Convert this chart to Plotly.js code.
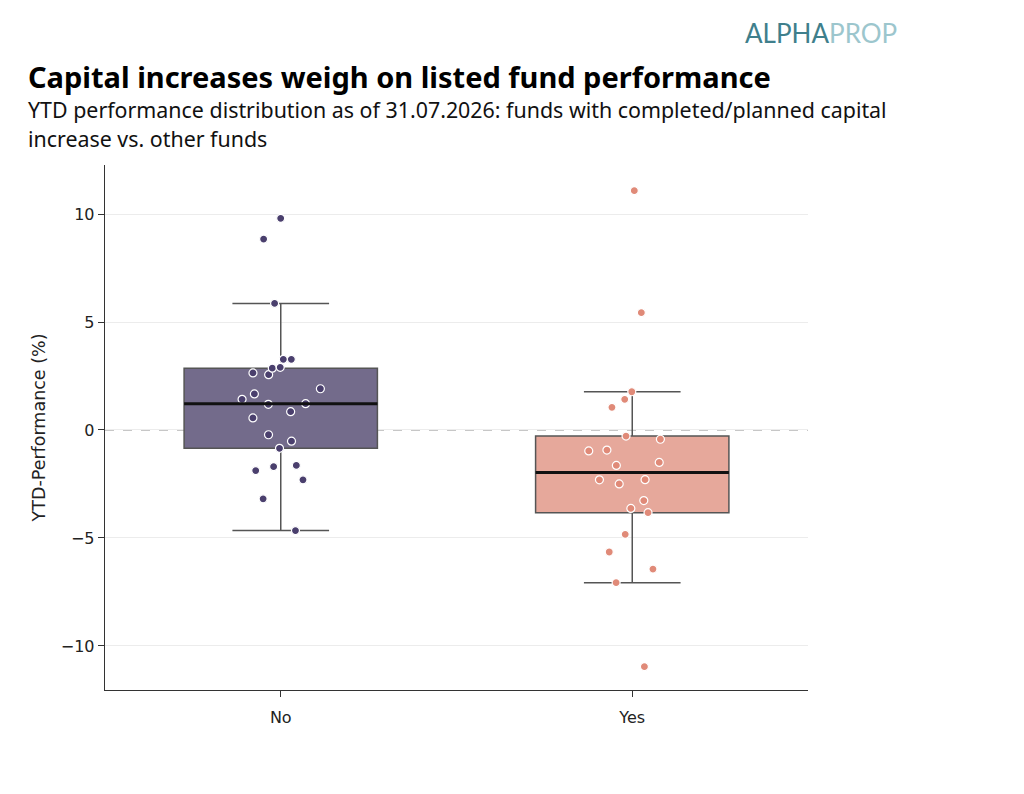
<!DOCTYPE html>
<html>
<head>
<meta charset="utf-8">
<script src="https://cdn.plot.ly/plotly-3.0.1.min.js"></script>
<style>
  html, body { margin: 0; padding: 0; background: #fff; }
  #chart { width: 1024px; height: 794px; }
</style>
</head>
<body>
<div id="chart"></div>
<script>
// YTD performance (%) per fund
const groups = ['No', 'Yes'];
const perfNo = [9.80, 8.84, 5.86, 3.27, 3.27, 2.86, 2.90, 2.56, 2.64, 1.91, 1.67, 1.42, 1.22,
  1.19, 0.85, 0.56, -0.22, -0.52, -0.85, -1.64, -1.70, -1.88, -2.31, -3.19, -4.66];
const perfYes = [11.08, 5.43, 1.77, 1.42, 1.05, -0.43, -0.28, -0.93, -0.97, -1.64, -1.50,
  -2.30, -2.50, -2.31, -3.27, -3.63, -3.83, -4.83, -5.65, -6.44, -7.07, -10.96];
const yTicks = [-10, -5, 0, 5, 10];

const boxFill = ['#736b8b', '#e6a89b'];
const dotColor = ['#4a3f6d', '#e08a78'];
const boxWidth = 0.55;
const axisFont = "'DejaVu Sans', sans-serif";
const headFont = "'Noto Sans', 'Open Sans', sans-serif";

function median(arr) {
  const s = [...arr].sort((a, b) => a - b);
  const m = Math.floor(s.length / 2);
  return s.length % 2 ? s[m] : (s[m - 1] + s[m]) / 2;
}

const series = [perfNo, perfYes];

const traces = series.map((vals, i) => ({
  type: 'box',
  x: vals.map(() => groups[i]),
  y: vals,
  name: groups[i],
  width: boxWidth,
  quartilemethod: 'inclusive',
  boxpoints: 'all',
  jitter: 0.5,
  pointpos: 0,
  whiskerwidth: 0.5,
  fillcolor: boxFill[i],
  line: { color: '#555555', width: 1.5 },
  marker: {
    color: dotColor[i],
    size: 8,
    line: { color: '#ffffff', width: 1.2 }
  },
  hoverinfo: 'y'
}));

// thick black median line like seaborn, computed from the data
const medianShapes = series.map((vals, i) => ({
  type: 'line',
  xref: 'x',
  yref: 'y',
  x0: i - boxWidth / 2,
  x1: i + boxWidth / 2,
  y0: median(vals),
  y1: median(vals),
  line: { color: '#111111', width: 3 },
  layer: 'above'
}));

const layout = {
  width: 1024,
  height: 794,
  margin: { t: 165, l: 105, r: 216, b: 104 },
  paper_bgcolor: '#ffffff',
  plot_bgcolor: '#ffffff',
  font: { family: axisFont, size: 16, color: '#222' },
  showlegend: false,
  boxmode: 'overlay',
  xaxis: {
    type: 'category',
    categoryorder: 'array',
    categoryarray: groups,
    range: [-0.5, 1.5],
    showgrid: false,
    zeroline: false,
    showline: true,
    linecolor: '#333',
    linewidth: 1.3,
    ticks: 'outside',
    ticklen: 6,
    tickcolor: '#333',
    ticklabelstandoff: 6,
    tickfont: { family: axisFont, size: 16, color: '#222' }
  },
  yaxis: {
    range: [-12.04, 12.27],
    tickvals: yTicks,
    showgrid: true,
    gridcolor: '#ececec',
    gridwidth: 1,
    zeroline: false,
    showline: true,
    linecolor: '#333',
    linewidth: 1.3,
    ticks: 'outside',
    ticklen: 6,
    tickcolor: '#333',
    tickfont: { family: axisFont, size: 16, color: '#222' },
    title: {
      text: 'YTD-Performance (%)',
      font: { family: axisFont, size: 17.5, color: '#222' },
      standoff: 10
    }
  },
  shapes: [
    {
      type: 'line',
      xref: 'paper',
      yref: 'y',
      x0: 0,
      x1: 1,
      y0: 0,
      y1: 0,
      line: { color: '#888', width: 1, dash: 'dash' },
      layer: 'below'
    },
    ...medianShapes
  ],
  annotations: [
    {
      text: '<b>Capital increases weigh on listed fund performance</b>',
      xref: 'paper', yref: 'paper',
      x: -0.112, y: 1.168,
      xanchor: 'left', yanchor: 'middle',
      showarrow: false,
      font: { family: headFont, size: 29, color: '#000' }
    },
    {
      text: 'YTD performance distribution as of 31.07.2026: funds with completed/planned capital',
      xref: 'paper', yref: 'paper',
      x: -0.112, y: 1.105,
      xanchor: 'left', yanchor: 'middle',
      showarrow: false,
      font: { family: headFont, size: 21.4, color: '#111' }
    },
    {
      text: 'increase vs. other funds',
      xref: 'paper', yref: 'paper',
      x: -0.112, y: 1.051,
      xanchor: 'left', yanchor: 'middle',
      showarrow: false,
      font: { family: headFont, size: 21.4, color: '#111' }
    },
    {
      text: '<span style="color:#3f7f8c">ALPHA</span><span style="color:#9cc6cd">PROP</span>',
      xref: 'paper', yref: 'paper',
      x: 1.018, y: 1.252,
      xanchor: 'center', yanchor: 'middle',
      showarrow: false,
      font: { family: 'Lato, sans-serif', size: 26 }
    }
  ]
};

Plotly.newPlot('chart', traces, layout, { displayModeBar: false, staticPlot: true });
</script>
</body>
</html>
